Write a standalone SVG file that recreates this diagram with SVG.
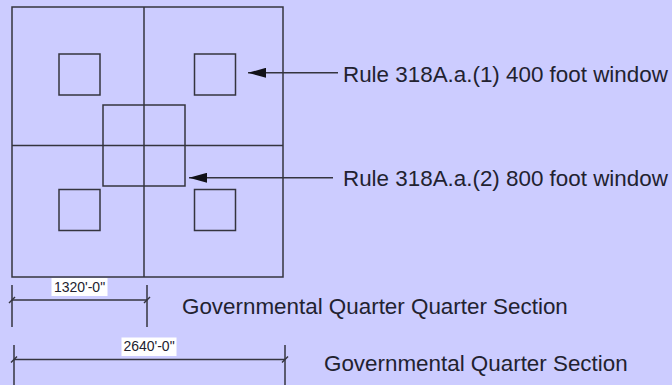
<svg xmlns="http://www.w3.org/2000/svg" width="672" height="385" viewBox="0 0 672 385">
<style>
.ln{fill:none;stroke:#34343f;stroke-width:1.5}
.lbl{font-family:"Liberation Sans",Arial,sans-serif;font-size:22.4px;fill:#222230}
.dim{font-family:"Liberation Sans",Arial,sans-serif;font-size:14px;fill:#222230;text-anchor:middle}
.box{fill:#ffffff;stroke:none}
</style>
<defs>
<marker id="ah" viewBox="0 0 18 10" refX="18" refY="5" markerWidth="18" markerHeight="10" markerUnits="userSpaceOnUse" orient="auto">
<path d="M18,5 L0,0 L0,10 Z" fill="#111118"/>
</marker>
</defs>
<rect width="672" height="385" fill="#ccccff"/>
<g id="section">
<rect class="ln" x="12" y="7" width="271" height="270"/>
<line class="ln" x1="144" y1="7" x2="144" y2="277"/>
<line class="ln" x1="12" y1="145.5" x2="283" y2="145.5"/>
</g>
<g id="window400">
<rect class="ln" x="59" y="54" width="41" height="41"/>
<rect class="ln" x="194.5" y="54" width="41" height="41"/>
<rect class="ln" x="59" y="189.5" width="41" height="41"/>
<rect class="ln" x="194.5" y="189.5" width="41" height="41"/>
</g>
<g id="window800">
<rect class="ln" x="103" y="105" width="82" height="81"/>
</g>
<g id="connectors">
<line class="ln" x1="338" y1="72.8" x2="248" y2="72.8" marker-end="url(#ah)"/>
<line class="ln" x1="333" y1="177.8" x2="189" y2="177.8" marker-end="url(#ah)"/>
</g>
<g id="label1"><text class="lbl" x="343" y="81.5">Rule 318A.a.(1) 400 foot window</text></g>
<g id="label2"><text class="lbl" x="343" y="186">Rule 318A.a.(2) 800 foot window</text></g>
<g id="dim1320">
<line class="ln" x1="12" y1="285" x2="12" y2="327"/>
<line class="ln" x1="147" y1="285" x2="147" y2="327"/>
<line class="ln" x1="12" y1="300" x2="147" y2="300"/>
<line class="ln" x1="9" y1="303" x2="15" y2="297"/>
<line class="ln" x1="144" y1="303" x2="150" y2="297"/>
<rect class="box" x="51.5" y="278" width="56" height="18"/>
<text class="dim" x="79.5" y="292">1320'-0"</text>
</g>
<g id="dim2640">
<line class="ln" x1="14" y1="345" x2="14" y2="385"/>
<line class="ln" x1="285" y1="345" x2="285" y2="385"/>
<line class="ln" x1="14" y1="359.5" x2="285" y2="359.5"/>
<line class="ln" x1="11" y1="362.5" x2="17" y2="356.5"/>
<line class="ln" x1="282" y1="362.5" x2="288" y2="356.5"/>
<rect class="box" x="121.5" y="337.5" width="55" height="18.5"/>
<text class="dim" x="149" y="350.5">2640'-0"</text>
</g>
<g id="label3"><text class="lbl" x="182" y="314">Governmental Quarter Quarter Section</text></g>
<g id="label4"><text class="lbl" x="324" y="370.5">Governmental Quarter Section</text></g>
</svg>
